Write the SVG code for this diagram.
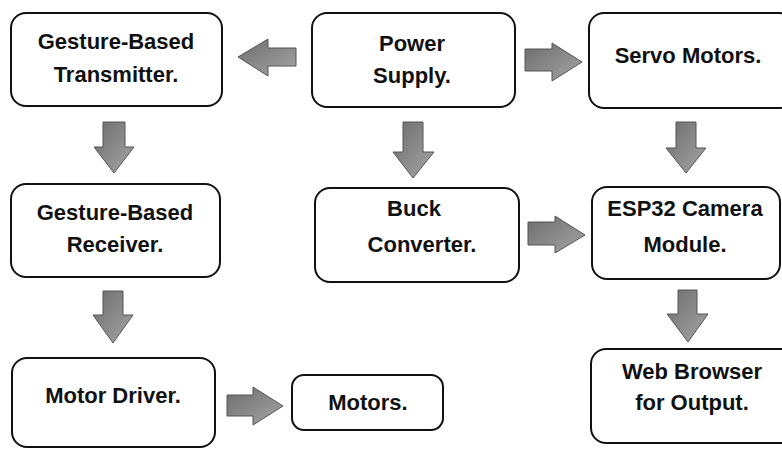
<svg xmlns="http://www.w3.org/2000/svg" width="782" height="449" viewBox="0 0 782 449">
<defs>
<linearGradient id="ag" x1="0" y1="0" x2="1" y2="1">
<stop offset="0" stop-color="#6c6c6c"/>
<stop offset="1" stop-color="#a6a6a6"/>
</linearGradient>
<style>
.box{fill:#fff;stroke:#111;stroke-width:2}
.t{font-family:"Liberation Sans",Arial,sans-serif;font-weight:bold;font-size:22px;fill:#111;text-anchor:middle}
.arr{fill:url(#ag);stroke:#555;stroke-width:1}
</style>
</defs>
<rect width="782" height="449" fill="#fff"/>
<g id="connectors">
<path class="arr" d="M296,48 L268,48 L268,39 L238,57 L268,76 L268,66 L296,66 Z"/>
<path class="arr" d="M525,49 L552,49 L552,43 L582,62 L552,81 L552,71 L525,71 Z"/>
<path class="arr" d="M103,122 L125,122 L125,147 L134,147 L114,173 L94,147 L103,147 Z"/>
<path class="arr" d="M403,122 L423,122 L423,152 L434,152 L413,178 L393,152 L403,152 Z"/>
<path class="arr" d="M676,122 L696,122 L696,148 L706,148 L686,173 L666,148 L676,148 Z"/>
<path class="arr" d="M528,222 L555,222 L555,216 L585,235 L555,253 L555,245 L528,245 Z"/>
<path class="arr" d="M103,291 L123,291 L123,315 L133,315 L113,343 L93,315 L103,315 Z"/>
<path class="arr" d="M678,290 L697,290 L697,314 L708,314 L688,342 L667,314 L678,314 Z"/>
<path class="arr" d="M227,395 L253,395 L253,387 L283,406 L253,425 L253,416 L227,416 Z"/>
</g>
<g id="transmitter"><rect class="box" x="11" y="13" width="211" height="93" rx="15"/>
<text class="t" x="116" y="49">Gesture-Based</text><text class="t" x="116" y="82">Transmitter.</text></g>
<g id="power"><rect class="box" x="312" y="13" width="203" height="94" rx="15"/>
<text class="t" x="412" y="51">Power</text><text class="t" x="412" y="83">Supply.</text></g>
<g id="servo"><rect class="box" x="589" y="13" width="205" height="95" rx="15"/>
<text class="t" x="688" y="63">Servo Motors.</text></g>
<g id="receiver"><rect class="box" x="11" y="184" width="209" height="93" rx="15"/>
<text class="t" x="115" y="220">Gesture-Based</text><text class="t" x="115" y="252">Receiver.</text></g>
<g id="buck"><rect class="box" x="315" y="188" width="204" height="94" rx="15"/>
<text class="t" x="414" y="216">Buck</text><text class="t" x="422" y="252">Converter.</text></g>
<g id="esp32"><rect class="box" x="592" y="187" width="188" height="92" rx="15"/>
<text class="t" x="685" y="216">ESP32 Camera</text><text class="t" x="685" y="252">Module.</text></g>
<g id="browser"><rect class="box" x="591" y="349" width="205" height="94" rx="15"/>
<text class="t" x="692" y="379">Web Browser</text><text class="t" x="692" y="410">for Output.</text></g>
<g id="driver"><rect class="box" x="12" y="358" width="203" height="89" rx="15"/>
<text class="t" x="113" y="403">Motor Driver.</text></g>
<g id="motors"><rect class="box" x="292" y="375" width="151" height="55" rx="12"/>
<text class="t" x="368" y="410">Motors.</text></g>
</svg>
